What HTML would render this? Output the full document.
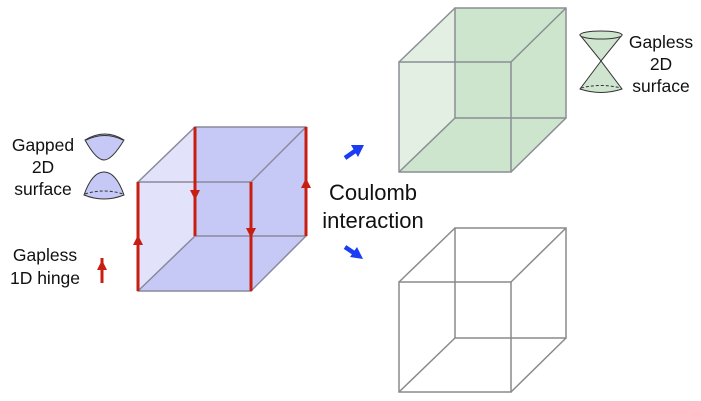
<!DOCTYPE html><html><head><style>body{margin:0;background:#fff}svg{display:block}</style></head><body>
<svg width="701" height="401" viewBox="0 0 701 401" font-family="Liberation Sans, sans-serif">
<!-- left cube -->
<polygon points="138,182 195,127 306,127 306,236 251,291 138,291" fill="#e2e3fa"/>
<polygon points="195,127 306,127 306,236 195,236" fill="#c6c9f6"/>
<polygon points="138,291 251,291 306,236 195,236" fill="#c6c9f6"/>
<g stroke="#8a8a9a" stroke-width="1.5" fill="none">
<rect x="195" y="127" width="111" height="109"/><rect x="138" y="182" width="113" height="109"/>
<line x1="138" y1="182" x2="195" y2="127"/><line x1="251" y1="182" x2="306" y2="127"/>
<line x1="138" y1="291" x2="195" y2="236"/><line x1="251" y1="291" x2="306" y2="236"/>
</g>
<g stroke="#c81e12" stroke-width="3">
<line x1="138" y1="182" x2="138" y2="291"/><line x1="195" y1="127" x2="195" y2="236"/>
<line x1="251" y1="182" x2="251" y2="291"/><line x1="306" y1="127" x2="306" y2="236"/>
<line x1="102" y1="258" x2="102" y2="283"/>
</g>
<g fill="#c81e12">
<polygon points="133,245 143,245 138,235"/><polygon points="190,190 200,190 195,200"/>
<polygon points="246,228 256,228 251,238"/><polygon points="301,188 311,188 306,178"/>
<polygon points="97,270 107,270 102,260"/>
</g>
<!-- green cube -->
<polygon points="399,62 455,8 566,8 566,118 511,172 399,172" fill="#e4efe4"/>
<polygon points="455,8 566,8 566,118 455,118" fill="#cde4cd"/>
<polygon points="399,172 511,172 566,118 455,118" fill="#cde4cd"/>
<g stroke="#8a8e94" stroke-width="1.5" fill="none">
<rect x="455" y="8" width="111" height="110"/><rect x="399" y="62" width="112" height="110"/>
<line x1="399" y1="62" x2="455" y2="8"/><line x1="511" y1="62" x2="566" y2="8"/>
<line x1="399" y1="172" x2="455" y2="118"/><line x1="511" y1="172" x2="566" y2="118"/>
</g>
<!-- gray cube -->
<g stroke="#8a8a8a" stroke-width="1.5" fill="none">
<rect x="455" y="228" width="111" height="110"/><rect x="399" y="282" width="112" height="110"/>
<line x1="399" y1="282" x2="455" y2="228"/><line x1="511" y1="282" x2="566" y2="228"/>
<line x1="399" y1="392" x2="455" y2="338"/><line x1="511" y1="392" x2="566" y2="338"/>
</g>
<!-- arrows -->
<g stroke="#1a3cf5" stroke-width="4.5" fill="#1a3cf5">
<line x1="345" y1="158" x2="355" y2="151"/>
<line x1="345" y1="247" x2="354" y2="253"/>
</g>
<g fill="#1a3cf5">
<polygon points="364,145 351,145 358,157"/>
<polygon points="363,259 357,247 350,257"/>
</g>
<!-- cones -->
<g stroke="#333" stroke-width="1" fill="#c6c8f6">
<path d="M85,140 Q105,128 124,140 Q112,160 104,160 Q96,160 85,140z"/>
<path d="M86,140 Q105,131 123,140" fill="none"/>
<path d="M84,195 Q92,172 104,172 Q116,172 124,195 Q104,203 84,195z"/>
<path d="M85,194 Q104,188 123,194" fill="none" stroke-dasharray="3,2"/>
</g>
<g stroke="#333" stroke-width="1" fill="#cfe5cf">
<path d="M580,35 L622,35 L601,61z"/><ellipse cx="601" cy="35" rx="21" ry="4"/>
<path d="M601,61 L580,89 Q601,96 622,89z"/>
<path d="M581,88 Q601,83 621,88" fill="none" stroke-dasharray="3,2"/>
</g>
<g font-size="17.5" fill="#111" text-anchor="middle">
<text x="43" y="151">Gapped</text><text x="43" y="173">2D</text><text x="43" y="195">surface</text>
<text x="45" y="261">Gapless</text><text x="45" y="284">1D hinge</text>
<text x="661" y="48">Gapless</text><text x="661" y="70">2D</text><text x="661" y="92">surface</text>
</g>
<g font-size="22" fill="#111" text-anchor="middle">
<text x="373" y="200">Coulomb</text><text x="373" y="228">interaction</text>
</g>
</svg>
</body></html>
